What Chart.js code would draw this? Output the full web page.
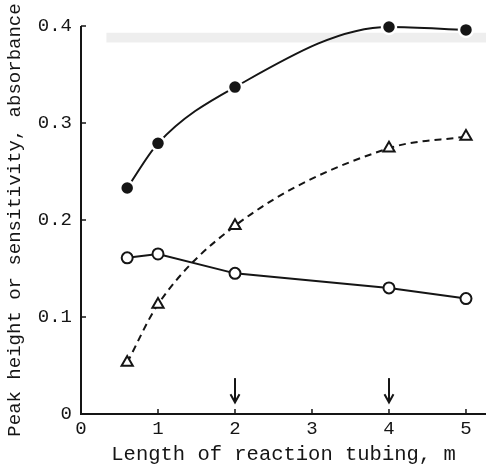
<!DOCTYPE html>
<html><head><meta charset="utf-8">
<script src="https://cdn.jsdelivr.net/npm/chart.js@4/dist/chart.umd.min.js"></script>
<style>html,body{margin:0;padding:0;background:#fff}#wrap{width:486px;height:467px}</style>
</head><body><div id="wrap"><canvas id="c"></canvas></div>
<script>
const lengths = [0.6, 1, 2, 4, 5];
const filledCircles = [0.233, 0.279, 0.337, 0.399, 0.396];
const triangles = [0.053, 0.113, 0.194, 0.274, 0.286];
const openCircles = [0.161, 0.165, 0.145, 0.130, 0.119];
const xTicks = [0, 1, 2, 3, 4, 5];
const yTicks = [0, 0.1, 0.2, 0.3, 0.4];
const arrowX = [2, 4];
const xTitle = 'Length of reaction tubing, m';
const yTitle = 'Peak height or sensitivity, absorbance';

const pts = ys => lengths.map((x, i) => ({x, y: ys[i]}));
const FONT = "'Liberation Mono', monospace";
const INK = '#151515';

const extras = {
  id: 'extras',
  beforeDatasetsDraw(chart) {
    const {ctx, scales: {x, y}} = chart;
    ctx.save();
    ctx.fillStyle = 'rgba(200,200,200,0.3)';
    const y0 = y.getPixelForValue(0.393), y1 = y.getPixelForValue(0.383);
    const xs = x.getPixelForValue(0.33);
    ctx.fillRect(xs, y0, x.right - xs, y1 - y0);
    ctx.restore();
  },
  afterDraw(chart) {
    const {ctx, scales: {x, y}} = chart;
    ctx.save();
    ctx.strokeStyle = INK; ctx.fillStyle = INK; ctx.lineWidth = 2;
    ctx.beginPath();
    ctx.moveTo(x.left, y.top); ctx.lineTo(x.left, y.bottom); ctx.lineTo(x.right, y.bottom);
    ctx.stroke();
    ctx.lineWidth = 1.5;
    yTicks.forEach(v => { if (v === 0) return; const p = y.getPixelForValue(v); ctx.beginPath(); ctx.moveTo(x.left, p); ctx.lineTo(x.left + 5, p); ctx.stroke(); });
    xTicks.forEach(v => { if (v === 0) return; const p = x.getPixelForValue(v); ctx.beginPath(); ctx.moveTo(p, y.bottom); ctx.lineTo(p, y.bottom - 5); ctx.stroke(); });
    ctx.lineWidth = 2;
    arrowX.forEach(v => {
      const px = x.getPixelForValue(v);
      const top = y.getPixelForValue(0.037), tip = y.getPixelForValue(0.012);
      ctx.beginPath(); ctx.moveTo(px, top); ctx.lineTo(px, tip); ctx.stroke();
      ctx.beginPath(); ctx.moveTo(px - 4.5, tip - 8); ctx.lineTo(px, tip); ctx.lineTo(px + 4.5, tip - 8); ctx.stroke();
    });
    ctx.restore();
  }
};

new Chart(document.getElementById('c'), {
  type: 'scatter',
  data: {
    datasets: [
      { data: pts(filledCircles), showLine: true, borderColor: INK, borderWidth: 2,
        cubicInterpolationMode: 'monotone', pointRadius: 7, pointBackgroundColor: INK,
        pointBorderColor: '#fff', pointBorderWidth: 2.5, pointStyle: 'circle' },
      { data: pts(triangles), showLine: true, borderColor: INK, borderWidth: 2, borderDash: [7, 5],
        cubicInterpolationMode: 'monotone', pointRadius: 6.5, pointBackgroundColor: '#fff',
        pointBorderColor: INK, pointBorderWidth: 2, pointStyle: 'triangle' },
      { data: pts(openCircles), showLine: true, borderColor: INK, borderWidth: 2, tension: 0,
        pointRadius: 5.5, pointBackgroundColor: '#fff', pointBorderColor: INK,
        pointBorderWidth: 2, pointStyle: 'circle' }
    ]
  },
  options: {
    responsive: true, maintainAspectRatio: false, animation: false,
    clip: false,
    layout: { autoPadding: false, padding: { top: 26, right: 0, left: 0, bottom: 0 } },
    plugins: { legend: { display: false }, tooltip: { enabled: false } },
    scales: {
      x: {
        type: 'linear', min: 0, max: 5.26,
        afterBuildTicks: s => { s.ticks = xTicks.map(v => ({value: v})); },
        afterFit: s => { s.height = 53; s.paddingLeft = 0; s.paddingRight = 0; },
        grid: { display: false, drawTicks: false },
        border: { display: false },
        ticks: { color: INK, font: { family: FONT, size: 19 }, padding: 4, callback: v => String(v), maxRotation: 0 },
        title: { display: true, text: xTitle, color: INK, font: { family: FONT, size: 20.5 }, padding: { top: 0, bottom: 0 } }
      },
      y: {
        type: 'linear', min: 0, max: 0.4,
        afterBuildTicks: s => { s.ticks = yTicks.map(v => ({value: v})); },
        afterFit: s => { s.width = 81; s.paddingTop = 0; s.paddingBottom = 0; },
        grid: { display: false, drawTicks: false },
        border: { display: false },
        ticks: { color: INK, font: { family: FONT, size: 19 }, padding: 9, callback: v => v === 0 ? '0' : v.toFixed(1) },
        title: { display: true, text: yTitle, color: INK, font: { family: FONT, size: 19 }, padding: { top: 4, bottom: 0 } }
      }
    }
  },
  plugins: [extras]
});
</script></body></html>
